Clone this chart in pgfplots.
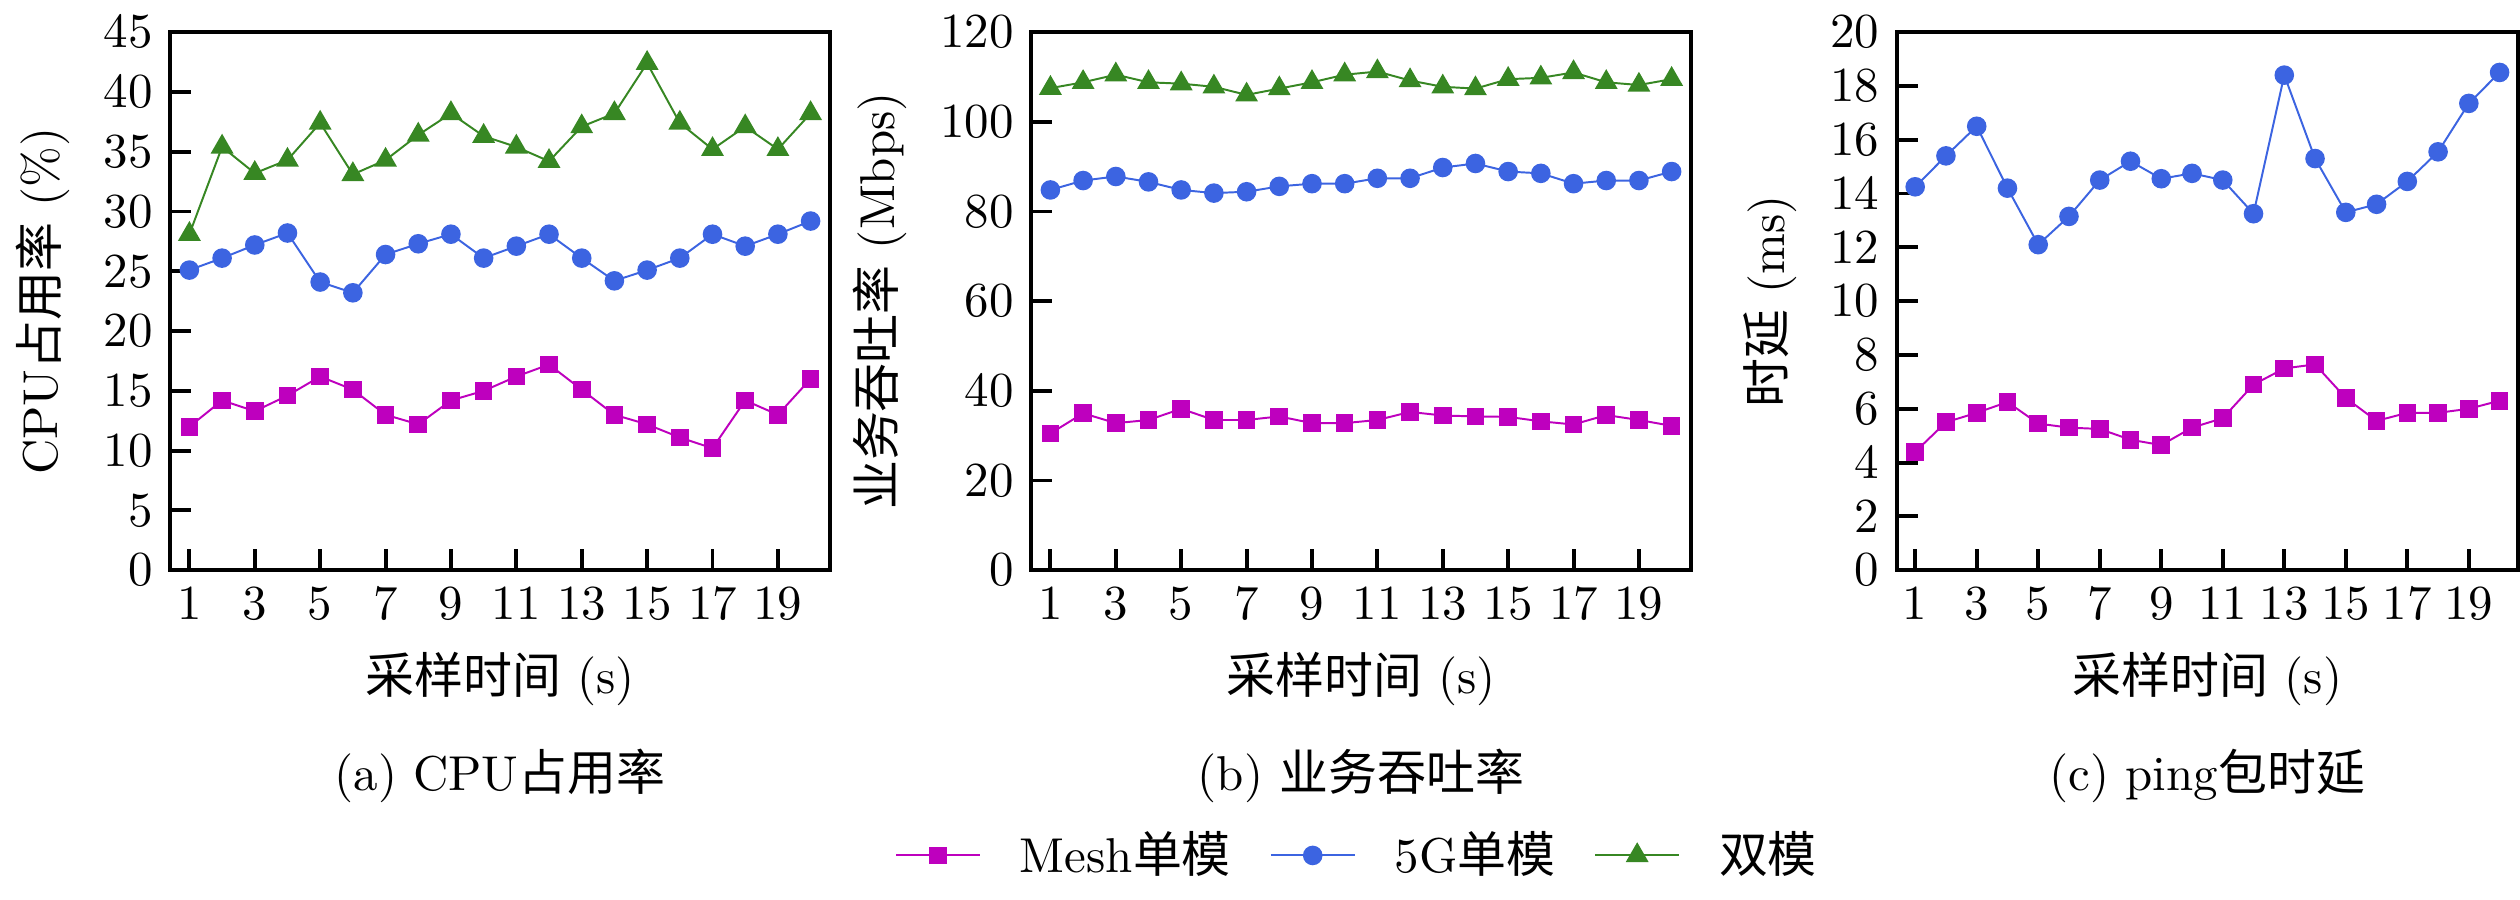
\documentclass[border=0pt]{standalone}
\usepackage{pgfplots}
\pgfplotsset{compat=1.18}
\usepackage{fontspec}
\newfontfamily\cjk{Noto Sans CJK SC}
\definecolor{colM}{RGB}{190,0,190}
\definecolor{colB}{RGB}{60,100,225}
\definecolor{colG}{RGB}{55,135,35}
\pgfplotsset{every axis/.style={scale only axis, width=135pt, height=110pt,
 xmin=0.4, xmax=20.6, xtick={1,3,...,19}, tick pos=left, ymin=0,
 xlabel={{\cjk 采样时间} (s)}, tick style={black, thick}, axis line style={thick}},
 mm/.style={colM, thin, mark=square*, mark size=1.6pt},
 bb/.style={colB, thin, mark=*, mark size=1.8pt},
 gg/.style={colG, thin, mark=triangle*, mark size=2.3pt}}
\begin{document}
\begin{tikzpicture}
\begin{axis}[name=a, at={(33pt,0)}, ymax=45, ytick={0,5,...,45}, ylabel={CPU{\cjk 占用率} (\%)}]
\addplot[mm] coordinates {(1,12)(2,14.2)(3,13.3)(4,14.6)(5,16.2)(6,15.1)(7,13)(8,12.2)(9,14.2)(10,15)(11,16.2)(12,17.2)(13,15.1)(14,13)(15,12.2)(16,11.1)(17,10.2)(18,14.2)(19,13)(20,16)};
\addplot[bb] coordinates {(1,25.1)(2,26.1)(3,27.2)(4,28.2)(5,24.1)(6,23.2)(7,26.4)(8,27.3)(9,28.1)(10,26.1)(11,27.1)(12,28.1)(13,26.1)(14,24.2)(15,25.1)(16,26.1)(17,28.1)(18,27.1)(19,28.1)(20,29.2)};
\addplot[gg] coordinates {(1,28.1)(2,35.4)(3,33.2)(4,34.3)(5,37.4)(6,33.1)(7,34.3)(8,36.4)(9,38.2)(10,36.3)(11,35.4)(12,34.2)(13,37.1)(14,38.2)(15,42.4)(16,37.4)(17,35.2)(18,37.1)(19,35.2)(20,38.2)};
\end{axis}
\node[below] at ([yshift=-33pt]a.south) {(a) CPU{\cjk 占用率}};
\begin{axis}[name=b, at={(209pt,0)}, ymax=120, ytick={0,20,...,120}, ylabel={{\cjk 业务吞吐率} (Mbps)},
 legend columns=3, legend style={draw=none, at={(0.5,-0.53)}, anchor=center, column sep=6pt}]
\addplot[mm] coordinates {(1,30.5)(2,35)(3,32.8)(4,33.5)(5,36)(6,33.5)(7,33.5)(8,34.3)(9,32.8)(10,32.8)(11,33.5)(12,35.3)(13,34.5)(14,34.3)(15,34.2)(16,33.2)(17,32.5)(18,34.6)(19,33.5)(20,32.2)};
\addplot[bb] coordinates {(1,84.8)(2,86.9)(3,87.8)(4,86.6)(5,84.8)(6,84.1)(7,84.4)(8,85.6)(9,86.2)(10,86.2)(11,87.4)(12,87.4)(13,89.8)(14,90.7)(15,88.9)(16,88.5)(17,86.2)(18,86.9)(19,86.9)(20,88.9)};
\addplot[gg] coordinates {(1,107.5)(2,108.8)(3,110.5)(4,108.8)(5,108.5)(6,107.8)(7,106)(8,107.4)(9,108.8)(10,110.5)(11,111.2)(12,109.2)(13,107.8)(14,107.4)(15,109.5)(16,109.8)(17,111)(18,108.8)(19,108.2)(20,109.5)};
\legend{Mesh{\cjk 单模}, 5G{\cjk 单模}, {\cjk 双模}}
\end{axis}
\node[below] at ([yshift=-33pt]b.south) {(b) {\cjk 业务吞吐率}};
\begin{axis}[name=c, at={(386pt,0)}, width=127pt, ymax=20, ytick={0,2,...,20}, ylabel={{\cjk 时延} (ms)}]
\addplot[mm] coordinates {(1,4.4)(2,5.5)(3,5.85)(4,6.25)(5,5.45)(6,5.3)(7,5.25)(8,4.85)(9,4.65)(10,5.3)(11,5.65)(12,6.9)(13,7.5)(14,7.65)(15,6.4)(16,5.55)(17,5.85)(18,5.85)(19,6.0)(20,6.3)};
\addplot[bb] coordinates {(1,14.25)(2,15.4)(3,16.5)(4,14.2)(5,12.1)(6,13.15)(7,14.5)(8,15.2)(9,14.55)(10,14.75)(11,14.5)(12,13.25)(13,18.4)(14,15.3)(15,13.3)(16,13.6)(17,14.45)(18,15.55)(19,17.35)(20,18.5)};
\end{axis}
\node[below] at ([yshift=-33pt]c.south) {(c) ping{\cjk 包时延}};
\end{tikzpicture}
\end{document}
